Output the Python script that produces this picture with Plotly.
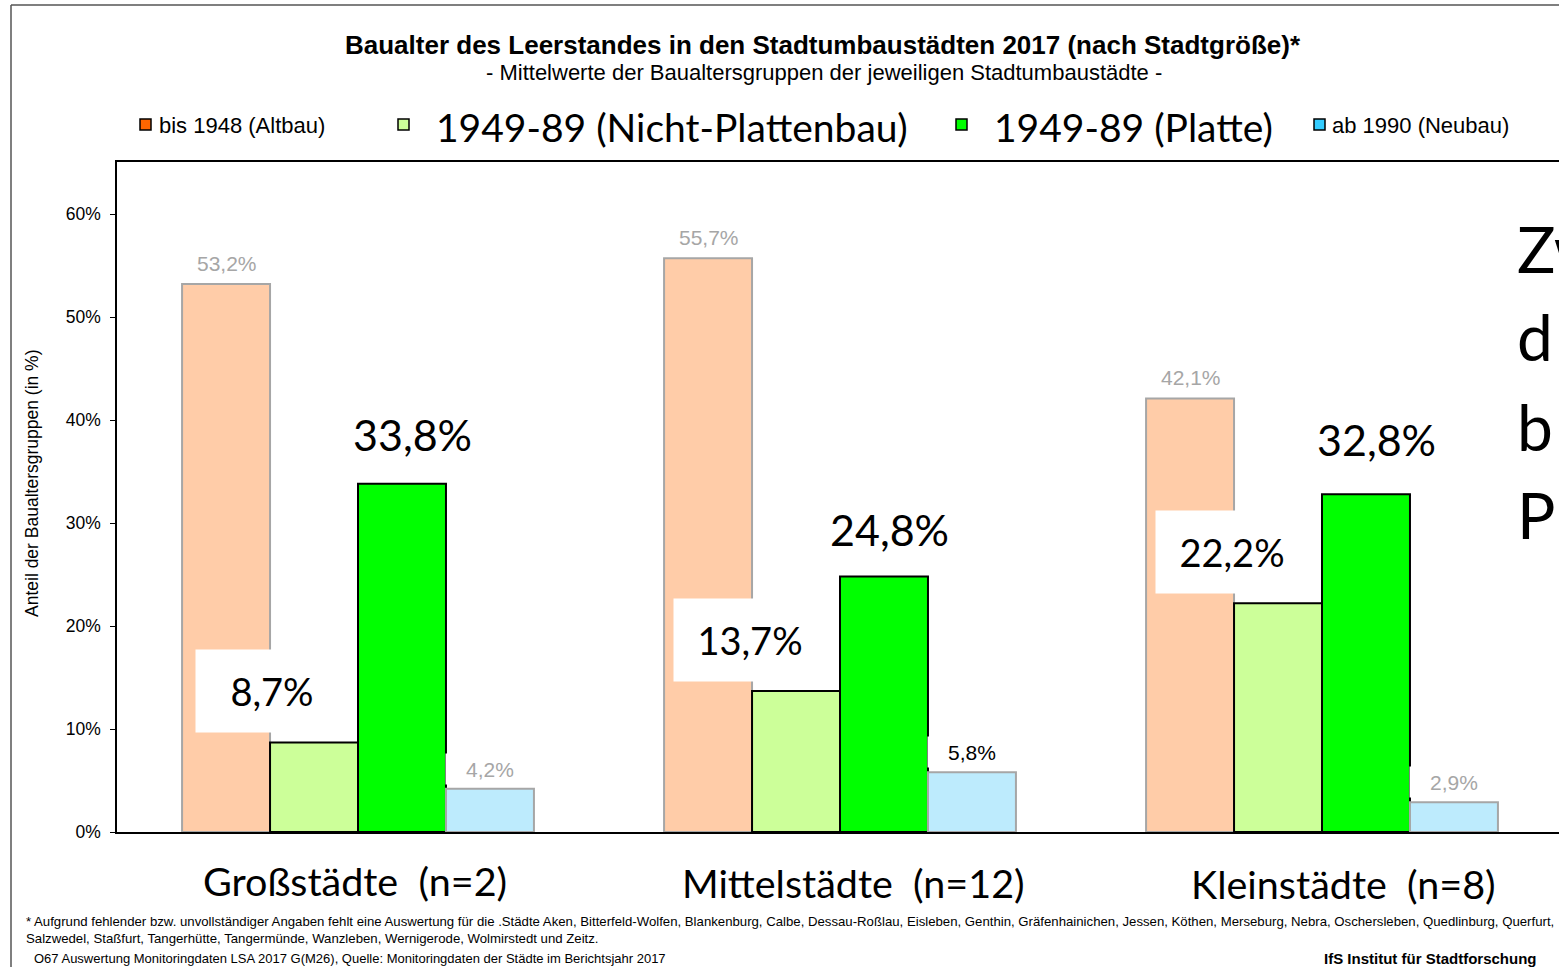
import plotly.graph_objects as go

# ---------------- data ----------------
categories = ["Großstädte", "Mittelstädte", "Kleinstädte"]
category_labels = ["Großstädte  (n=2)", "Mittelstädte  (n=12)", "Kleinstädte  (n=8)"]
series_names = ["bis 1948 (Altbau)", "1949-89 (Nicht-Plattenbau)", "1949-89 (Platte)", "ab 1990 (Neubau)"]
altbau = [53.2, 55.7, 42.1]
nicht_platte = [8.7, 13.7, 22.2]
platte = [33.8, 24.8, 32.8]
neubau = [4.2, 5.8, 2.9]
y_ticks = [0, 10, 20, 30, 40, 50, 60]
y_tick_labels = ["0%", "10%", "20%", "30%", "40%", "50%", "60%"]

title = "Baualter des Leerstandes in den Stadtumbaustädten 2017 (nach Stadtgröße)*"
subtitle = "- Mittelwerte der Baualtersgruppen der jeweiligen Stadtumbaustädte -"
y_title = "Anteil der Baualtersgruppen (in %)"
foot1 = ("* Aufgrund fehlender bzw. unvollständiger Angaben fehlt eine Auswertung für die .Städte Aken, "
         "Bitterfeld-Wolfen, Blankenburg, Calbe, Dessau-Roßlau, Eisleben, Genthin, Gräfenhainichen, Jessen, "
         "Köthen, Merseburg, Nebra, Oschersleben, Quedlinburg, Querfurt,")
foot2 = "Salzwedel, Staßfurt, Tangerhütte, Tangermünde, Wanzleben, Wernigerode, Wolmirstedt und Zeitz."
source = "O67 Auswertung Monitoringdaten LSA 2017 G(M26), Quelle: Monitoringdaten der Städte im Berichtsjahr 2017"
institute = "IfS Institut für Stadtforschung"
side_lines = ["Zw", "d", "b", "P"]

# ---------------- styling ----------------
W, H = 1559, 967
L, R, T, B = 117, 0, 162, 135
PW, PH = W - L - R, H - T - B
ARIAL = "Liberation Sans, Arial, sans-serif"
CALIBRI = "Lato, Calibri, sans-serif"

def xp(px):
    return (px - L) / PW

def yp(py):
    return (H - B - py) / PH

def fmt(v):
    return f"{v:.1f}".replace(".", ",") + "%"

bar_fill = ["#FFCCA8", "#CCFF99", "#00FF00", "#BDEBFD"]
bar_line = ["#A6A6A6", "#000000", "#000000", "#A6A6A6"]
legend_fill = ["#FF6600", "#CCFF99", "#00FF00", "#33CCFF"]

fig = go.Figure()
for name, vals, fc, lc in zip(series_names, [altbau, nicht_platte, platte, neubau], bar_fill, bar_line):
    fig.add_trace(go.Bar(
        x=categories, y=vals, name=name, showlegend=False,
        marker=dict(color=fc, line=dict(color=lc, width=2)),
        hoverinfo="x+y+name",
    ))

annotations = []
# orange labels (small grey)
for i, v in enumerate(altbau):
    annotations.append(dict(x=i, y=v, xref="x", yref="y", text=fmt(v), showarrow=False,
                            xshift=-131, yshift=21, font=dict(family=ARIAL, size=21, color="#A6A6A6")))
# blue labels
blue_colors = ["#A6A6A6", "#000000", "#A6A6A6"]
for i, v in enumerate(neubau):
    annotations.append(dict(x=i, y=v, xref="x", yref="y", text=fmt(v), showarrow=False,
                            xshift=132, yshift=20, bgcolor="white", borderpad=3, width=82, height=24,
                            font=dict(family=ARIAL, size=21, color=blue_colors[i])))
# light green labels (big, white boxes)
lg_shift = [-86, -90, -90]
for i, v in enumerate(nicht_platte):
    annotations.append(dict(x=i, y=v, xref="x", yref="y", text=fmt(v), showarrow=False,
                            xshift=lg_shift[i], yshift=51, bgcolor="white", borderpad=15,
                            width=122, height=52,
                            font=dict(family=CALIBRI, size=38, color="#000000")))
# green labels (big)
g_shift = [(54, 49), (49, 47), (54, 55)]
for i, v in enumerate(platte):
    annotations.append(dict(x=i, y=v, xref="x", yref="y", text=fmt(v), showarrow=False,
                            xshift=g_shift[i][0], yshift=g_shift[i][1],
                            font=dict(family=CALIBRI, size=43, color="#000000")))
# category labels
cat_pos = [(355, 880), (853, 882), (1343, 883)]
for lab, (cx, cy) in zip(category_labels, cat_pos):
    annotations.append(dict(x=xp(cx), y=yp(cy), xref="paper", yref="paper", text=lab, showarrow=False,
                            xanchor="center", yanchor="middle",
                            font=dict(family=CALIBRI, size=39.5, color="#000000")))

# legend
leg_marker_x = [140, 398, 956, 1314]
leg_text_x = [157, 434, 992, 1330]
leg_sizes = [22, 39, 39, 22]
leg_fonts = [ARIAL, CALIBRI, CALIBRI, ARIAL]
leg_y = [125, 127, 127, 125]
shapes = []
for mx, tx, sz, ff, ly, name, col in zip(leg_marker_x, leg_text_x, leg_sizes, leg_fonts, leg_y, series_names, legend_fill):
    shapes.append(dict(type="rect", xref="paper", yref="paper", x0=xp(mx), x1=xp(mx + 11),
                       y0=yp(119 + 11), y1=yp(119), fillcolor=col, line=dict(color="#000000", width=1.5)))
    annotations.append(dict(x=xp(tx), y=yp(ly), xref="paper", yref="paper", text=name, showarrow=False,
                            xanchor="left", yanchor="middle", font=dict(family=ff, size=sz, color="#000000")))

# titles
annotations.append(dict(x=xp(823), y=yp(45), xref="paper", yref="paper", text="<b>" + title + "</b>",
                        showarrow=False, xanchor="center", yanchor="middle",
                        font=dict(family=ARIAL, size=26, color="#000000")))
annotations.append(dict(x=xp(824), y=yp(73), xref="paper", yref="paper", text=subtitle,
                        showarrow=False, xanchor="center", yanchor="middle",
                        font=dict(family=ARIAL, size=22, color="#000000")))
annotations.append(dict(x=xp(32), y=yp(483), xref="paper", yref="paper", text=y_title, textangle=-90,
                        showarrow=False, xanchor="center", yanchor="middle",
                        font=dict(family=ARIAL, size=17.5, color="#000000")))
# footnotes
annotations.append(dict(x=xp(24), y=yp(930), xref="paper", yref="paper", text=foot1 + "<br>" + foot2,
                        showarrow=False, xanchor="left", yanchor="middle", align="left",
                        font=dict(family=ARIAL, size=13.2, color="#000000")))
annotations.append(dict(x=xp(32), y=yp(958), xref="paper", yref="paper", text=source,
                        showarrow=False, xanchor="left", yanchor="middle",
                        font=dict(family=ARIAL, size=13, color="#000000")))
annotations.append(dict(x=xp(1538), y=yp(959), xref="paper", yref="paper", text="<b>" + institute + "</b>",
                        showarrow=False, xanchor="right", yanchor="middle",
                        font=dict(family=ARIAL, size=15, color="#000000")))
# side overlay text (cut off at the right edge in the original)
side_y = [248, 336, 426, 514]
for txt, sy in zip(side_lines, side_y):
    annotations.append(dict(x=xp(1515), y=yp(sy), xref="paper", yref="paper", text=txt,
                            showarrow=False, xanchor="left", yanchor="middle", align="left",
                            font=dict(family=CALIBRI, size=64, color="#000000")))

# outer frame
shapes.append(dict(type="line", xref="paper", yref="paper", x0=xp(11), x1=xp(11), y0=yp(5), y1=yp(967),
                   line=dict(color="#555555", width=1.5)))
shapes.append(dict(type="line", xref="paper", yref="paper", x0=xp(11), x1=xp(1559), y0=yp(5), y1=yp(5),
                   line=dict(color="#555555", width=1.5)))

fig.update_layout(
    width=W, height=H,
    margin=dict(l=L, r=R, t=T, b=B, pad=0),
    paper_bgcolor="white", plot_bgcolor="white",
    barmode="group", bargap=0.27, bargroupgap=0,
    annotations=annotations, shapes=shapes,
    showlegend=False,
)
fig.update_xaxes(range=[-0.5, 2.4917], showticklabels=False, ticks="", showgrid=False,
                 showline=True, linecolor="#000000", linewidth=1.5, mirror=True, zeroline=False)
fig.update_yaxes(range=[0, 65.05], tickvals=y_ticks, ticktext=y_tick_labels, ticks="outside",
                 ticklen=5, tickcolor="#000000", showgrid=False, zeroline=False,
                 ticklabelstandoff=6,
                 showline=True, linecolor="#000000", linewidth=1.5,
                 tickfont=dict(family=ARIAL, size=17.5, color="#000000"))

fig.write_html("out.html", config={"displayModeBar": False},
               post_script="document.body.style.margin='0';document.body.style.overflow='hidden';")
